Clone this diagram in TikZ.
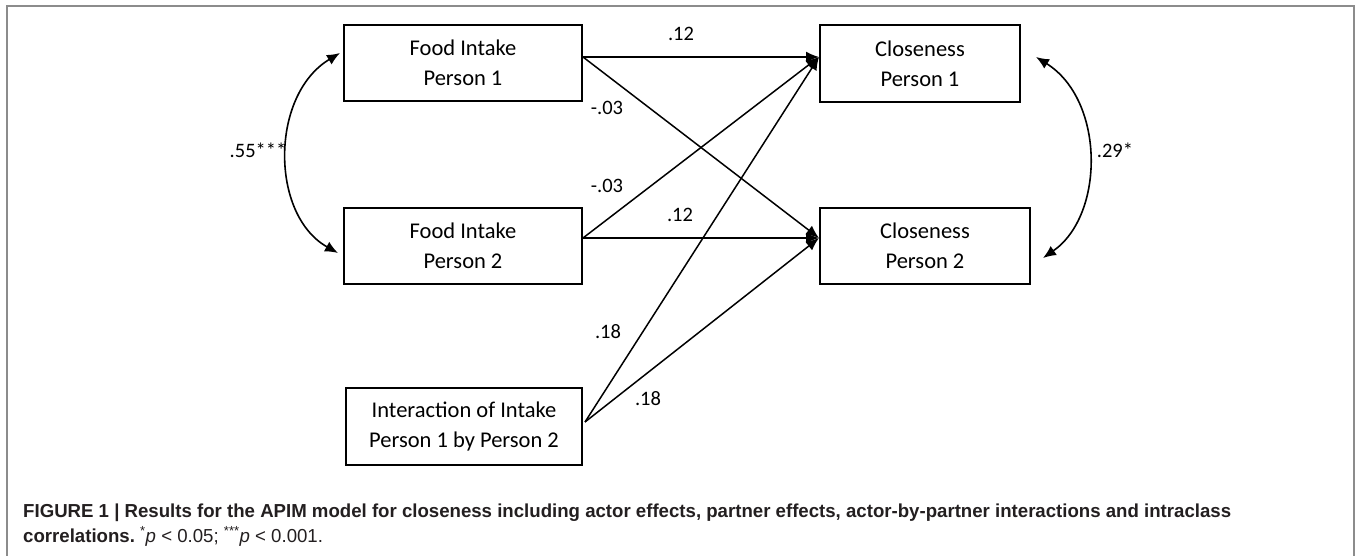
\documentclass[tikz,border=0pt]{standalone}
\usepackage{fontspec}
\usepackage{graphicx}
\setmainfont{Carlito}
\newfontfamily\capfont{Liberation Sans}
\usetikzlibrary{arrows.meta,calc}
\definecolor{framegray}{HTML}{8C8C8C}
\definecolor{captext}{HTML}{231F20}
\newlength\capwidth
\newcommand\capone{FIGURE 1 | Results for the APIM model for closeness including actor effects, partner effects, actor-by-partner interactions and intraclass}
\newcommand\captwo{correlations.\mdseries\ \textsuperscript{*}\textit{p} {<} 0.05; \textsuperscript{***}\textit{p} {<} 0.001.}
\begin{document}
\settowidth{\capwidth}{\capfont\bfseries\fontsize{18.8}{22}\selectfont\capone}%
\pgfmathsetmacro\capscale{1208/\capwidth}%
\begin{tikzpicture}[x=1pt,y=-1pt,
  box/.style={draw, line width=2pt, align=center, inner sep=0pt,
    font=\fontsize{22.5}{30}\selectfont},
  coef/.style={font=\fontsize{20.5}{24}\selectfont, inner sep=1pt},
  conn/.style={line width=1.5pt, -{Latex[length=13pt,width=11pt]}},
  corr/.style={line width=1.6pt, {Latex[length=13pt,width=11pt]}-{Latex[length=13pt,width=11pt]}},
  capstyle/.style={anchor=base west, inner sep=0pt, text=captext,
    font=\capfont\bfseries\fontsize{18.8}{22}\selectfont}]
\useasboundingbox (0,0) rectangle (1357,556);
\draw[framegray, line width=2pt] (7,556) -- (7,6) -- (1354,6) -- (1354,556);

\node[box, minimum width=238pt, minimum height=76pt] (fi1) at (463,63) {Food Intake\\Person 1};
\node[box, minimum width=238pt, minimum height=76pt] (fi2) at (463,246) {Food Intake\\Person 2};
\node[box, minimum width=236pt, minimum height=77pt] (int) at (464,426.5) {Interaction of Intake\\Person 1 by Person 2};
\node[box, minimum width=200pt, minimum height=77pt] (cp1) at (920,63.5) {Closeness\\Person 1};
\node[box, minimum width=210pt, minimum height=76pt] (cp2) at (925,246) {Closeness\\Person 2};

\draw[conn] ([yshift=6pt]fi1.east) -- ([yshift=6.5pt]cp1.west);
\draw[conn] ([yshift=6pt]fi1.east) -- ([yshift=8pt]cp2.west);
\draw[conn] ([yshift=8pt]fi2.east) -- ([yshift=6.5pt]cp1.west);
\draw[conn] ([yshift=8pt]fi2.east) -- ([yshift=8pt]cp2.west);
\draw[conn] ([yshift=4.5pt,xshift=2pt]int.east) -- ([yshift=6.5pt]cp1.west);
\draw[conn] ([yshift=4.5pt,xshift=2pt]int.east) -- ([yshift=8pt]cp2.west);

\draw[corr] ([yshift=10pt,xshift=-3pt]fi1.west) .. controls (270,95) and (270,215) .. ([yshift=-7pt,xshift=-5pt]fi2.west);
\draw[corr] ([yshift=6.5pt,xshift=15pt]cp1.east) .. controls (1105,100) and (1105,215) .. ([yshift=-12pt,xshift=12pt]cp2.east);

\node[coef] (c1) at (681,34) {.12};
\node[coef] (c2) at (607,108) {-.03};
\node[coef] (c3) at (607,186) {-.03};
\node[coef] (c4) at (680,215) {.12};
\node[coef] (c5) at (608,332) {.18};
\node[coef] (c6) at (648,399) {.18};
\node[coef] (c7) at (258,150) {.55***};
\node[coef] (c8) at (1115,150) {.29*};

\node[capstyle] (cap1) at (23,517) {\scalebox{\capscale}[1]{\capone}};
\node[capstyle] (cap2) at (23,542) {\scalebox{\capscale}[1]{\captwo}};
\end{tikzpicture}
\end{document}
